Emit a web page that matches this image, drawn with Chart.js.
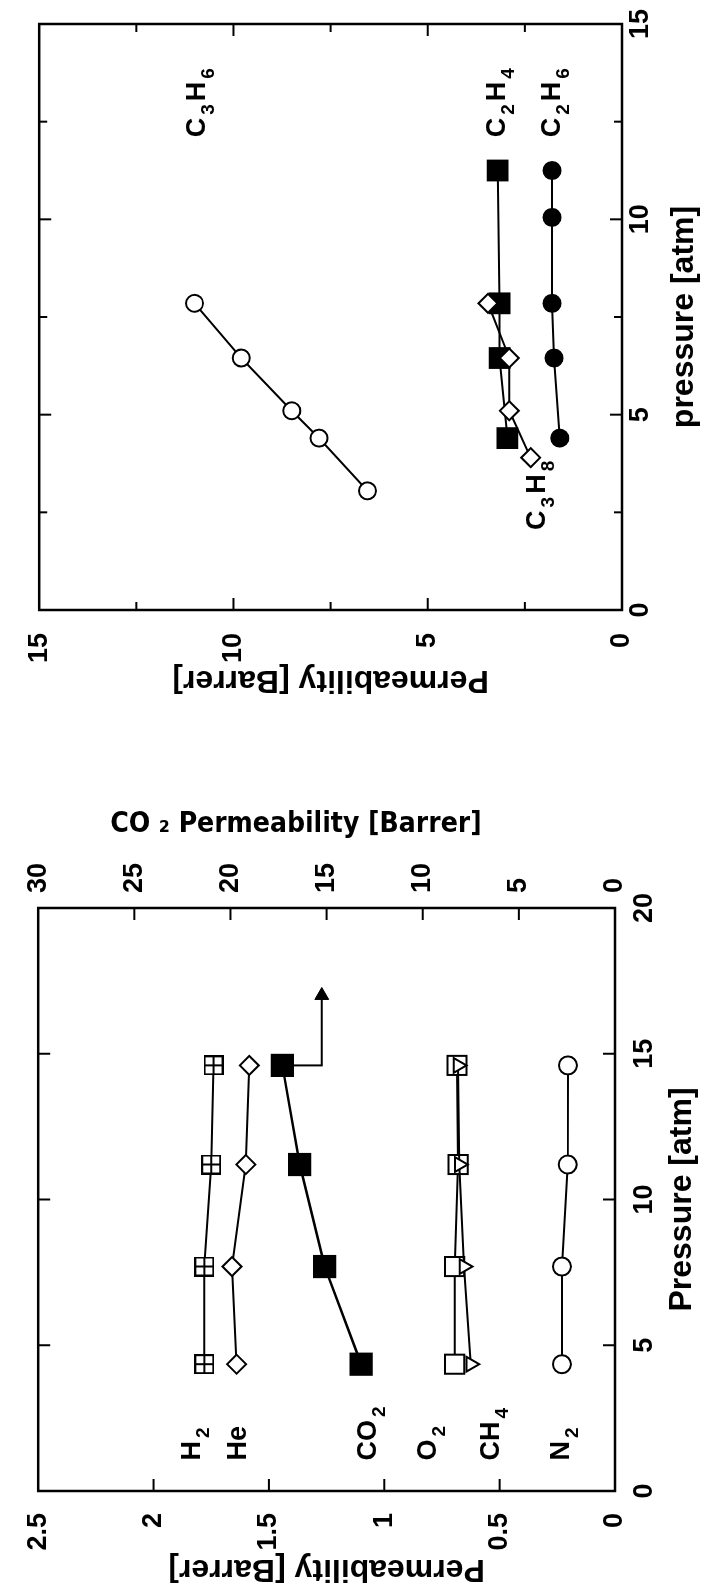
<!DOCTYPE html>
<html><head><meta charset="utf-8">
<script src="https://cdn.jsdelivr.net/npm/chart.js@4/dist/chart.umd.min.js"></script>
<style>
html,body{margin:0;padding:0;background:#fff;overflow:hidden;width:708px;height:1594px;}
#wrap{position:absolute;left:0;top:0;width:1594px;height:708px;transform-origin:0 0;transform:translate(0px,1594px) rotate(-90deg);}
#gas{position:absolute;left:0;top:0;}
#hc{position:absolute;left:797px;top:0;}
</style></head><body>
<div id="wrap"><canvas id="gas" width="797" height="708"></canvas><canvas id="hc" width="797" height="708"></canvas></div>
<script>
// ---------- Left panel: permanent gases ----------
const gasPressure = [4.35, 7.7, 11.2, 14.6];
const h2Perm  = [1.78, 1.78, 1.75, 1.74];
const hePerm  = [1.64, 1.66, 1.60, 1.585];
const co2Perm = [13.2, 15.1, 16.4, 17.3];   // read on the CO2 (right) axis
const o2Perm  = [0.695, 0.695, 0.68, 0.685];
const ch4Perm = [0.625, 0.655, 0.675, 0.68];
const n2Perm  = [0.23, 0.23, 0.205, 0.204];
const arrowPressure = [14.6, 14.6, 17.0];
const arrowCO2      = [17.3, 15.25, 15.25];

const gasLabels        = ['H2', 'He', 'CO2', 'O2', 'CH4', 'N2'];
const gasLabelPerm     = [1.84, 1.64, 1.08, 0.82, 0.545, 0.24];
const gasLabelPressure = [1.05, 1.05, 1.05, 1.05, 1.05, 1.05];

const gasPressureTicks  = [0, 5, 10, 15, 20];
const gasPressureLabels = ['0', '5', '10', '15', '20'];
const gasPermTicks      = [0, 0.5, 1, 1.5, 2, 2.5];
const gasPermLabels     = ['0', '0.5', '1', '1.5', '2', '2.5'];
const co2Ticks          = [0, 5, 10, 15, 20, 25, 30];
const co2TickLabels     = ['0', '5', '10', '15', '20', '25', '30'];

// ---------- Right panel: hydrocarbons ----------
const c3h6Pressure = [3.05, 4.4, 5.1, 6.45, 7.85];
const c3h6Perm     = [6.55, 7.8, 8.5, 9.8, 11.0];
const c2h4Pressure = [4.4, 6.45, 7.85, 11.25];
const c2h4Perm     = [2.95, 3.15, 3.15, 3.2];
const c3h8Pressure = [3.9, 5.1, 6.45, 7.85];
const c3h8Perm     = [2.35, 2.9, 2.9, 3.45];
const c2h6Pressure = [4.4, 6.45, 7.85, 10.05, 11.25];
const c2h6Perm     = [1.6, 1.75, 1.8, 1.8, 1.8];

const hcLabels        = ['C3H6', 'C2H4', 'C2H6', 'C3H8'];
const hcLabelPressure = [12.1, 12.1, 12.1, 2.05];
const hcLabelPerm     = [10.97, 3.26, 1.84, 2.22];

const hcPressureTicks  = [0, 5, 10, 15];
const hcPressureLabels = ['0', '5', '10', '15'];
const hcPermTicks      = [0, 5, 10, 15];
const hcPermLabels     = ['0', '5', '10', '15'];
const hcMinorTicks     = [2.5, 7.5, 12.5];

// ---------- helpers ----------
const FAMILY = '"Liberation Sans", Arial, sans-serif';
const tickFont  = {family: FAMILY, size: 27, weight: 'bold'};
const titleFont = {family: FAMILY, size: 32, weight: 'bold'};
const pts = (xs, ys) => xs.map((x, i) => ({x: x, y: ys[i]}));
const setTicks = arr => (s => { s.ticks = arr.map(v => ({value: v})); });

function plusSquare(size) {
  const c = document.createElement('canvas');
  c.width = size; c.height = size;
  const g = c.getContext('2d');
  g.fillStyle = '#fff'; g.fillRect(1, 1, size - 2, size - 2);
  g.strokeStyle = '#000'; g.lineWidth = 2;
  g.strokeRect(1, 1, size - 2, size - 2);
  g.beginPath();
  g.moveTo(size / 2, 1); g.lineTo(size / 2, size - 1);
  g.moveTo(1, size / 2); g.lineTo(size - 1, size / 2);
  g.stroke();
  return c;
}

const frameTicks = {
  id: 'frameTicks',
  afterDraw(chart, args, opts) {
    const {ctx, chartArea: a} = chart;
    ctx.save();
    ctx.strokeStyle = '#000';
    ctx.lineWidth = 2;
    for (const t of opts.sets) {
      const s = chart.scales[t.scale];
      for (const v of t.values) {
        const p = s.getPixelForValue(v);
        ctx.beginPath();
        if (t.edge === 'bottom') { ctx.moveTo(p, a.bottom); ctx.lineTo(p, a.bottom - t.len); }
        else if (t.edge === 'top') { ctx.moveTo(p, a.top); ctx.lineTo(p, a.top + t.len); }
        else if (t.edge === 'left') { ctx.moveTo(a.left, p); ctx.lineTo(a.left + t.len, p); }
        else { ctx.moveTo(a.right, p); ctx.lineTo(a.right - t.len, p); }
        ctx.stroke();
      }
    }
    ctx.lineWidth = 2.5;
    ctx.strokeRect(a.left, a.top, a.right - a.left, a.bottom - a.top);
    ctx.restore();
  }
};

const chemLabels = {
  id: 'chemLabels',
  afterDatasetsDraw(chart, args, opts) {
    const {ctx} = chart;
    const xs = chart.scales.x, ys = chart.scales.y;
    const MAIN = 27, SUB = 19;
    ctx.save();
    ctx.fillStyle = '#000';
    ctx.textAlign = 'left';
    ctx.textBaseline = 'alphabetic';
    opts.texts.forEach((txt, i) => {
      let x = xs.getPixelForValue(opts.px[i]);
      const base = ys.getPixelForValue(opts.py[i]) + 0.36 * MAIN;
      const parts = txt.match(/\d+|[^\d]+/g);
      parts.forEach(part => {
        if (/^\d+$/.test(part)) {
          ctx.font = 'bold ' + SUB + 'px ' + FAMILY;
          x += 3;
          ctx.fillText(part, x, base + 9);
          x += ctx.measureText(part).width + 3;
        } else {
          ctx.font = 'bold ' + MAIN + 'px ' + FAMILY;
          ctx.fillText(part, x, base);
          x += ctx.measureText(part).width;
        }
      });
    });
    ctx.restore();
  }
};

function ds(data, style, extra) {
  return Object.assign({
    data: data, showLine: true, borderColor: '#000', borderWidth: 2,
    pointStyle: style, pointBorderColor: '#000', pointBorderWidth: 2,
    pointBackgroundColor: '#fff', pointRadius: 9, pointHoverRadius: 9
  }, extra || {});
}

// ---------- Left chart ----------
new Chart(document.getElementById('gas'), {
  type: 'scatter',
  data: {datasets: [
    ds(pts(gasPressure, ch4Perm), 'triangle', {label: 'CH4', pointRotation: 180, pointRadius: 8.5}),
    ds(pts(gasPressure, o2Perm), 'rect', {label: 'O2', pointRadius: 13.5}),
    ds(pts(gasPressure, h2Perm), plusSquare(20), {label: 'H2'}),
    ds(pts(gasPressure, hePerm), 'rectRot', {label: 'He', pointRadius: 9.5}),
    ds(pts(gasPressure, co2Perm), 'rect', {label: 'CO2', yAxisID: 'y2', pointRadius: 15, pointBackgroundColor: '#000', borderWidth: 2.5}),
    ds(pts(arrowPressure, arrowCO2), 'triangle', {label: 'arrow', yAxisID: 'y2', pointRotation: 90, pointRadius: [0, 0, 8], pointBackgroundColor: '#000', pointBorderWidth: 1}),
    ds(pts(gasPressure, n2Perm), 'circle', {label: 'N2'})
  ]},
  options: {
    responsive: false, animation: false, devicePixelRatio: 1,
    layout: {padding: {top: 28, left: 0, right: 0, bottom: 0}},
    plugins: {
      legend: {display: false}, tooltip: {enabled: false},
      frameTicks: {sets: [
        {scale: 'x', edge: 'bottom', values: [5, 10, 15], len: 12},
        {scale: 'x', edge: 'top', values: [5, 10, 15], len: 12},
        {scale: 'y', edge: 'left', values: [0.5, 1, 1.5, 2], len: 12},
        {scale: 'y2', edge: 'right', values: [5, 10, 15, 20, 25], len: 12}
      ]},
      chemLabels: {texts: gasLabels, px: gasLabelPressure, py: gasLabelPerm}
    },
    scales: {
      x: {type: 'linear', position: 'bottom', min: 0, max: 20,
        afterBuildTicks: setTicks(gasPressureTicks), afterFit: s => { s.height = 93; },
        grid: {display: false, drawTicks: false}, border: {display: false},
        ticks: {padding: 13, color: '#000', font: tickFont, maxRotation: 0, autoSkip: false,
          callback: (v, i) => gasPressureLabels[i]},
        title: {display: true, text: 'Pressure [atm]', color: '#000', font: titleFont, padding: {top: 0, bottom: 7}}},
      y: {type: 'linear', position: 'left', min: 0, max: 2.5,
        afterBuildTicks: setTicks(gasPermTicks), afterFit: s => { s.width = 103; },
        grid: {display: false, drawTicks: false}, border: {display: false},
        ticks: {padding: 22, color: '#000', font: tickFont, autoSkip: false,
          callback: (v, i) => gasPermLabels[i]},
        title: {display: true, text: 'Permeability [Barrer]', color: '#000', font: titleFont, padding: {top: 6, bottom: 0}}},
      y2: {type: 'linear', position: 'right', min: 0, max: 30,
        afterBuildTicks: setTicks(co2Ticks), afterFit: s => { s.width = 111; },
        grid: {display: false, drawTicks: false}, border: {display: false},
        ticks: {padding: 15, color: '#000', font: tickFont, autoSkip: false,
          callback: (v, i) => co2TickLabels[i]},
        title: {display: true, text: 'CO \u2082 Permeability [Barrer]       ', color: '#000',
          font: {family: '"DejaVu Sans Condensed", "Liberation Sans Narrow", "DejaVu Sans", sans-serif', size: 28, weight: 'bold'},
          padding: {top: 11, bottom: 0}}}
    }
  },
  plugins: [frameTicks, chemLabels]
});

// ---------- Right chart ----------
new Chart(document.getElementById('hc'), {
  type: 'scatter',
  data: {datasets: [
    ds(pts(c3h8Pressure, c3h8Perm), 'rectRot', {label: 'C3H8', pointRadius: 9.5}),
    ds(pts(c2h4Pressure, c2h4Perm), 'rect', {label: 'C2H4', pointRadius: 14, pointBackgroundColor: '#000'}),
    ds(pts(c2h6Pressure, c2h6Perm), 'circle', {label: 'C2H6', pointRadius: 8.5, pointBackgroundColor: '#000'}),
    ds(pts(c3h6Pressure, c3h6Perm), 'circle', {label: 'C3H6', pointRadius: 8.5})
  ]},
  options: {
    responsive: false, animation: false, devicePixelRatio: 1,
    layout: {padding: {top: 27, left: 0, right: 24, bottom: 0}},
    plugins: {
      legend: {display: false}, tooltip: {enabled: false},
      frameTicks: {sets: [
        {scale: 'x', edge: 'bottom', values: [5, 10], len: 12},
        {scale: 'x', edge: 'top', values: [5, 10], len: 12},
        {scale: 'x', edge: 'bottom', values: hcMinorTicks, len: 8},
        {scale: 'x', edge: 'top', values: hcMinorTicks, len: 8},
        {scale: 'y', edge: 'left', values: [5, 10], len: 12},
        {scale: 'y', edge: 'right', values: [5, 10], len: 12},
        {scale: 'y', edge: 'left', values: hcMinorTicks, len: 8},
        {scale: 'y', edge: 'right', values: hcMinorTicks, len: 8}
      ]},
      chemLabels: {texts: hcLabels, px: hcLabelPressure, py: hcLabelPerm}
    },
    scales: {
      x: {type: 'linear', position: 'bottom', min: 0, max: 15,
        afterBuildTicks: setTicks(hcPressureTicks), afterFit: s => { s.height = 86; },
        grid: {display: false, drawTicks: false}, border: {display: false},
        ticks: {padding: 2, color: '#000', font: tickFont, maxRotation: 0, autoSkip: false,
          callback: (v, i) => hcPressureLabels[i]},
        title: {display: true, text: 'pressure [atm]', color: '#000', font: titleFont, padding: {top: 0, bottom: 5}}},
      y: {type: 'linear', position: 'left', min: 0, max: 15,
        afterBuildTicks: setTicks(hcPermTicks), afterFit: s => { s.width = 187; },
        grid: {display: false, drawTicks: false}, border: {display: false},
        ticks: {padding: 23, color: '#000', font: tickFont, autoSkip: false,
          callback: (v, i) => hcPermLabels[i]},
        title: {display: true, text: 'Permeability [Barrer]', color: '#000', font: titleFont, padding: {top: 98, bottom: 0}}}
    }
  },
  plugins: [frameTicks, chemLabels]
});
</script>
</body></html>
